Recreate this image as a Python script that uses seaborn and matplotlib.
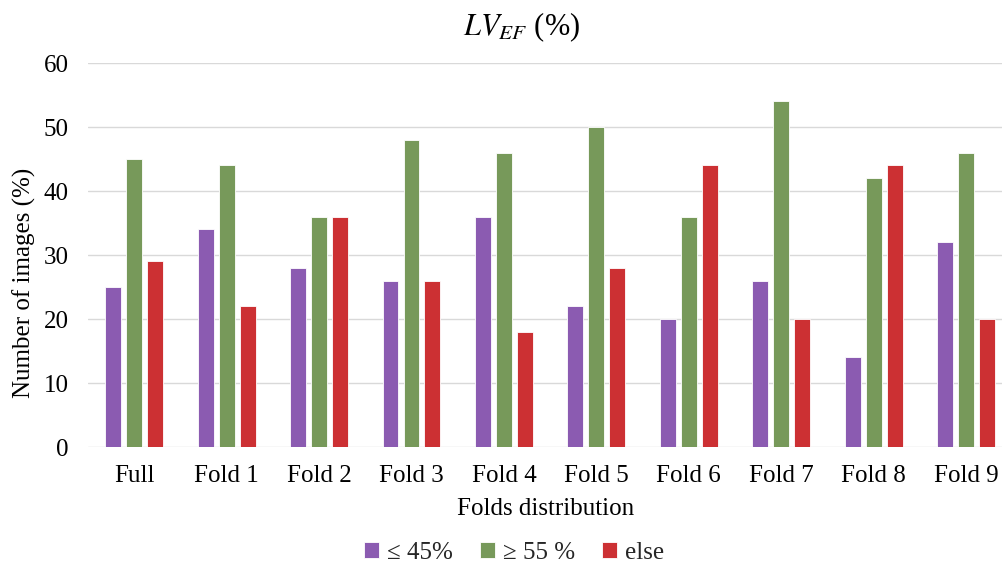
import seaborn as sns
import matplotlib.pyplot as plt
import pandas as pd

# values
folds = ["Full", "Fold 1", "Fold 2", "Fold 3", "Fold 4",
         "Fold 5", "Fold 6", "Fold 7", "Fold 8", "Fold 9"]
groups = ["\u2264 45%", "\u2265 55 %", "else"]
low_ef = [25, 34, 28, 26, 36, 22, 20, 26, 14, 32]
high_ef = [45, 44, 36, 48, 46, 50, 36, 54, 42, 46]
other_ef = [29, 22, 36, 26, 18, 28, 44, 20, 44, 20]
colors = ["#8b5bb1", "#77995a", "#cc3033"]

df = pd.DataFrame({"fold": folds, groups[0]: low_ef,
                   groups[1]: high_ef, groups[2]: other_ef})
df_long = df.melt(id_vars="fold", var_name="group", value_name="pct")

sns.set_theme(style="whitegrid")
plt.rcParams["font.family"] = ["Liberation Serif", "DejaVu Serif"]
plt.rcParams["mathtext.fontset"] = "stix"

fig = plt.figure(figsize=(10.03, 5.67), dpi=100)
ax = fig.add_axes([88 / 1003, 120 / 567, 915 / 1003, 384 / 567])

sns.barplot(data=df_long, x="fold", y="pct", hue="group", order=folds,
            hue_order=groups, palette=colors, width=0.68, gap=0.24,
            saturation=1, edgecolor="white", linewidth=0.6, ax=ax)

ax.set_xlim(-0.5, 9.4)
ax.set_ylim(0, 60)
ax.set_yticks(range(0, 61, 10))
ax.grid(axis="y", color="#d9d9d9", linewidth=1)
ax.grid(axis="x", visible=False)
for s in ax.spines.values():
    s.set_visible(False)
ax.tick_params(axis="both", labelsize=18, length=0, colors="black")
ax.tick_params(axis="y", pad=14)
ax.tick_params(axis="x", pad=13)
ax.set_xlabel("Folds distribution", fontsize=18, color="black", labelpad=8)
ax.set_ylabel("Number of images (%)", fontsize=18, color="black")
ax.yaxis.set_label_coords(-0.057, 0.427)
ax.set_title("$LV_{EF}$ (%)", fontsize=22, color="black", pad=20, x=0.474)

handles, labels = ax.get_legend_handles_labels()
ax.get_legend().remove()
fig.legend(handles, labels, loc="center", bbox_to_anchor=(514 / 1003, 1 - 553 / 567),
           ncol=3, frameon=False, fontsize=18, handlelength=0.6,
           handleheight=0.6, handletextpad=0.3, columnspacing=1.1)
fig.savefig("out.png", dpi=100)
